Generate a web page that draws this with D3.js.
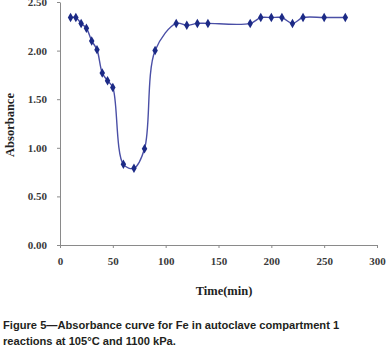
<!DOCTYPE html>
<html lang="en">
<head>
<meta charset="UTF-8">
<script src="https://d3js.org/d3.v7.min.js"></script>
<title>Absorbance curve for Fe</title>
<style>
  body { margin: 0; background: #fff; }
</style>
</head>
<body>
<svg width="386" height="347"></svg>
<script>
    // time (min) and absorbance
    const time = [10, 15, 20, 25, 30, 35, 40, 45, 50, 60, 70, 80, 90, 110, 120, 130, 140, 180, 190, 200, 210, 220, 230, 250, 270];
    const absorbance = [2.34, 2.34, 2.28, 2.23, 2.10, 2.01, 1.77, 1.69, 1.62, 0.83, 0.79, 0.99, 2.00, 2.28, 2.26, 2.28, 2.28, 2.28, 2.34, 2.34, 2.34, 2.28, 2.34, 2.34, 2.34];
    const xTicks = [0, 50, 100, 150, 200, 250, 300];
    const yTicks = [0, 0.5, 1, 1.5, 2, 2.5];
    const captionLines = [
        "Figure 5\u2014Absorbance curve for Fe in autoclave compartment 1",
        "reactions at 105\u00b0C and 1100 kPa."
    ];

    const data = time.map((t, i) => ({ t: t, v: absorbance[i] }));

    const svg = d3.select("svg");

    const x = d3.scaleLinear().domain([0, 300]).range([60, 377]);
    const y = d3.scaleLinear().domain([0, 2.5]).range([245, 2]);

    // axes
    const xAxis = svg.append("g")
        .attr("transform", "translate(0,245)")
        .call(d3.axisBottom(x).tickValues(xTicks).tickSize(3).tickPadding(9).tickSizeOuter(0));
    const yAxis = svg.append("g")
        .attr("transform", "translate(60,0)")
        .call(d3.axisLeft(y).tickValues(yTicks).tickSize(3).tickPadding(10).tickSizeOuter(0)
            .tickFormat(d3.format(".2f")));

    [xAxis, yAxis].forEach(g => {
        g.select(".domain").attr("stroke", "#8a8a8a");
        g.selectAll(".tick line").attr("stroke", "#8a8a8a");
        g.selectAll(".tick text")
            .attr("fill", "#3a3a3a")
            .style("font-family", "'Liberation Serif', 'Times New Roman', serif")
            .style("font-weight", "bold")
            .style("font-size", "11px");
    });

    // smoothed line
    const line = d3.line()
        .x(d => x(d.t))
        .y(d => y(d.v))
        .curve(d3.curveCatmullRom.alpha(0.5));

    svg.append("path")
        .attr("d", line(data))
        .attr("fill", "none")
        .attr("stroke", "#4a4fa6")
        .attr("stroke-width", 1.4);

    // diamond markers
    svg.selectAll("path.marker")
        .data(data)
        .enter()
        .append("path")
        .attr("class", "marker")
        .attr("d", d3.symbol().type(d3.symbolDiamond).size(26))
        .attr("transform", d => `translate(${x(d.t)},${y(d.v)})`)
        .attr("fill", "#1c2a86");

    // axis titles
    svg.append("text")
        .attr("x", 224)
        .attr("y", 295)
        .attr("text-anchor", "middle")
        .attr("fill", "#222")
        .style("font-family", "'Liberation Serif', 'Times New Roman', serif")
        .style("font-weight", "bold")
        .style("font-size", "12.5px")
        .text("Time(min)");

    svg.append("text")
        .attr("transform", "translate(11,125) rotate(-90)")
        .attr("text-anchor", "middle")
        .attr("dominant-baseline", "middle")
        .attr("fill", "#222")
        .style("font-family", "'Liberation Serif', 'Times New Roman', serif")
        .style("font-weight", "bold")
        .style("font-size", "12.5px")
        .text("Absorbance");

    // caption
    svg.selectAll("text.caption")
        .data(captionLines)
        .enter()
        .append("text")
        .attr("class", "caption")
        .attr("x", 3)
        .attr("y", (d, i) => 329 + i * 16)
        .attr("fill", "#231f20")
        .style("font-family", "'Liberation Sans', Arial, sans-serif")
        .style("font-weight", "bold")
        .style("font-size", "11.15px")
        .text(d => d);
</script>
</body>
</html>
